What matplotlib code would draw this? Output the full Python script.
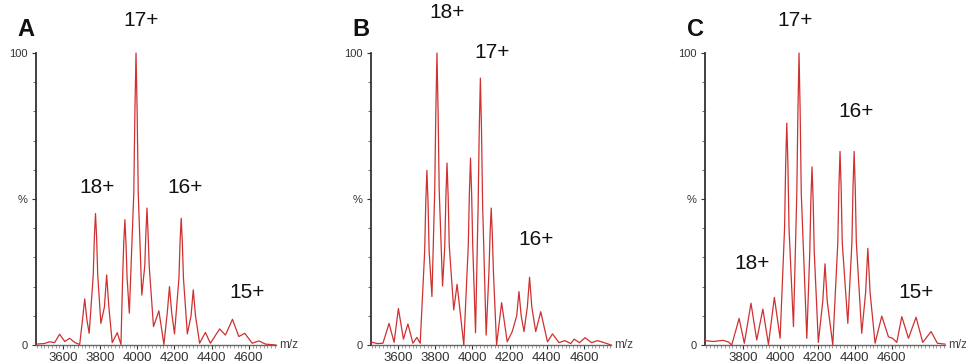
import numpy as np
import matplotlib.pyplot as plt
from matplotlib.ticker import MultipleLocator

plt.rcParams['font.family'] = ['Liberation Sans', 'DejaVu Sans']

# Spectrum traces: m/z and relative intensity (%)
mz_a = [3455, 3500, 3528, 3555, 3582, 3610, 3636, 3665, 3690, 3705, 3717, 3729, 3741,
        3763, 3769, 3775, 3781, 3787, 3804, 3823, 3835, 3847, 3865, 3892, 3912, 3921,
        3927, 3933, 3939, 3945, 3957, 3981, 3987, 3993, 3999, 4005, 4024, 4040, 4046,
        4052, 4058, 4064, 4087, 4116, 4143, 4161, 4173, 4185, 4200, 4224, 4230, 4236,
        4242, 4248, 4269, 4289, 4301, 4313, 4335, 4366, 4393, 4443, 4474, 4512, 4546,
        4578, 4618, 4654, 4690, 4744]
int_a = [0.3, 0.5, 1.1, 0.8, 3.7, 1.2, 2.3, 0.8, 0.2, 8.5, 15.8, 8.5, 4.0,
         24.0, 37.0, 45.0, 37.0, 24.0, 7.4, 13.0, 24.0, 13.0, 0.8, 4.2, 0.2, 23.0,
         35.0, 42.9, 35.0, 23.0, 10.9, 52.0, 80.0, 100.0, 80.0, 52.0, 17.1, 27.0, 38.0,
         46.9, 38.0, 27.0, 6.3, 11.7, 0.2, 11.0, 20.0, 11.0, 3.8, 23.0, 35.5, 43.4,
         35.5, 23.0, 3.8, 10.0, 18.9, 10.0, 0.6, 4.3, 0.6, 5.5, 3.4, 8.8, 2.9,
         4.0, 0.6, 1.4, 0.3, 0.0]

mz_b = [3456, 3490, 3520, 3553, 3580, 3603, 3630, 3654, 3681, 3702, 3720, 3744, 3750,
        3756, 3762, 3768, 3783, 3798, 3804, 3810, 3816, 3822, 3840, 3852, 3858, 3864,
        3870, 3876, 3900, 3918, 3954, 3978, 3984, 3990, 3996, 4002, 4017, 4031, 4037,
        4043, 4049, 4055, 4074, 4089, 4095, 4101, 4107, 4113, 4130, 4157, 4187, 4214,
        4238, 4250, 4262, 4277, 4295, 4307, 4319, 4340, 4367, 4403, 4430, 4465, 4496,
        4528, 4546, 4575, 4605, 4640, 4672, 4717, 4744]
int_b = [1.0, 0.5, 0.6, 7.4, 0.9, 12.5, 2.0, 7.2, 0.6, 2.6, 0.6, 32.0, 49.0,
         59.8, 49.0, 32.0, 16.6, 53.0, 80.0, 100.0, 80.0, 53.0, 20.2, 34.0, 51.0, 62.3,
         51.0, 34.0, 12.0, 20.8, 0.0, 34.0, 52.0, 64.0, 52.0, 34.0, 4.2, 48.0, 74.0,
         91.4, 74.0, 48.0, 3.4, 25.0, 38.0, 46.9, 38.0, 25.0, 0.0, 14.5, 1.1, 4.6,
         10.0, 18.3, 10.0, 4.6, 13.0, 23.2, 13.0, 4.6, 11.4, 1.1, 3.8, 0.8, 1.5,
         0.5, 2.0, 0.8, 2.5, 0.8, 1.5, 0.6, 0.0]

mz_c = [3593, 3640, 3690, 3720, 3737, 3777, 3805, 3841, 3872, 3905, 3935, 3967, 3998,
        4022, 4028, 4034, 4040, 4046, 4070, 4088, 4094, 4100, 4106, 4112, 4142, 4158,
        4164, 4170, 4176, 4182, 4204, 4228, 4240, 4252, 4282, 4309, 4315, 4321, 4327,
        4333, 4363, 4385, 4391, 4397, 4403, 4409, 4438, 4459, 4471, 4483, 4510, 4546,
        4582, 4604, 4627, 4654, 4690, 4731, 4767, 4812, 4846, 4887]
int_c = [1.5, 1.2, 1.6, 1.0, 0.0, 9.1, 0.6, 14.3, 1.7, 12.3, 0.2, 16.3, 2.3,
         40.0, 62.0, 76.0, 62.0, 40.0, 6.3, 52.0, 80.0, 100.0, 80.0, 52.0, 2.3, 32.0,
         50.0, 61.0, 50.0, 32.0, 0.9, 15.0, 27.8, 15.0, 0.0, 35.0, 54.0, 66.3, 54.0,
         35.0, 7.4, 35.0, 54.0, 66.3, 54.0, 35.0, 4.0, 18.0, 33.1, 18.0, 0.6, 9.9,
         2.8, 2.3, 0.9, 9.7, 2.3, 9.5, 0.9, 4.6, 0.6, 0.3]

# charge state labels (text, m/z, intensity)
labels_a = [('17+', 4020, 111), ('18+', 3782, 54), ('16+', 4258, 54), ('15+', 4588, 18)]
labels_b = [('18+', 3864, 114), ('17+', 4104, 100), ('16+', 4344, 36)]
labels_c = [('17+', 4081, 111), ('16+', 4408, 80), ('18+', 3845, 28), ('15+', 4731, 18)]

panels = [
    ('A', mz_a, int_a, labels_a, (3455, 4746), [3600, 3800, 4000, 4200, 4400, 4600], 36),
    ('B', mz_b, int_b, labels_b, (3456, 4744), [3600, 3800, 4000, 4200, 4400, 4600], 371),
    ('C', mz_c, int_c, labels_c, (3593, 4887), [3800, 4000, 4200, 4400, 4600], 705),
]

W, H = 966, 363
fig = plt.figure(figsize=(W / 100, H / 100), dpi=100)

for letter, mz, inten, labs, xlim, xt, left_px in panels:
    ax = fig.add_axes([left_px / W, (H - 345) / H, 240 / W, 292 / H])
    ax.plot(mz, inten, color='#cf3030', lw=0.9, clip_on=False, zorder=3)
    ax.set_xlim(*xlim)
    ax.set_ylim(0, 100)

    for s in ['top', 'right']:
        ax.spines[s].set_visible(False)
    ax.spines['left'].set_color('#333333')
    ax.spines['left'].set_linewidth(1.3)
    ax.spines['bottom'].set_color('#666666')
    ax.spines['bottom'].set_linewidth(1.0)

    ax.set_yticks([0, 50, 100])
    ax.set_yticklabels(['0', '%', '100'])
    ax.yaxis.set_minor_locator(MultipleLocator(10))
    ax.set_xticks(xt)
    ax.xaxis.set_minor_locator(MultipleLocator(20))
    ax.tick_params(axis='y', which='major', length=3, width=0.8, pad=3,
                   labelsize=8, colors='#333333')
    ax.tick_params(axis='y', which='minor', length=2.5, width=0.6, color='#555555')
    ax.tick_params(axis='x', which='major', length=3, width=0.8, pad=2,
                   labelsize=9.5, colors='#333333')
    ax.tick_params(axis='x', which='minor', length=2, width=0.5, color='#777777')

    ax.text(1.012, 0, 'm/z', transform=ax.transAxes, ha='left', va='center',
            fontsize=8.5, color='#444444', clip_on=False)

    for txt, x, y in labs:
        ax.text(x, y, txt, ha='center', va='center', fontsize=15, color='#111111',
                clip_on=False)

    fig.text((left_px - 10) / W, 1 - 29 / H, letter, ha='center', va='center',
             fontsize=17, fontweight='bold', color='#111111')

fig.savefig('out.png', dpi=100, facecolor='white')
